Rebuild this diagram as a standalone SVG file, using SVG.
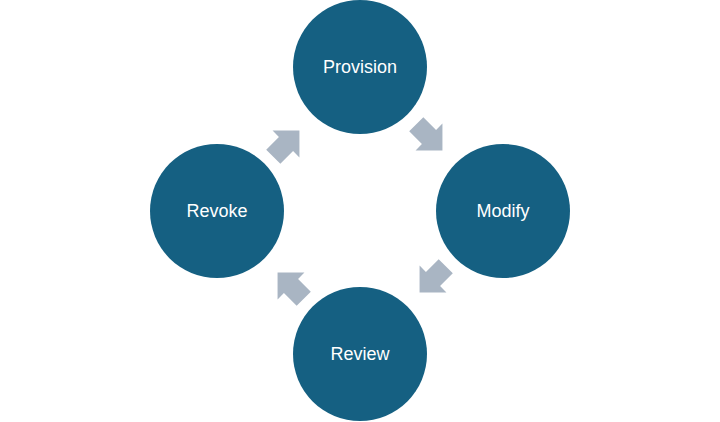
<svg xmlns="http://www.w3.org/2000/svg" width="720" height="422" viewBox="0 0 720 422">
<style>
.n{fill:#156082}
.t{fill:#fff;font-family:"Liberation Sans",Arial,sans-serif;font-size:18px;text-anchor:middle}
.a{fill:#A9B5C3}
</style>
<defs><path id="ar" d="M-18,-10 H0 V-19 L19,0 L0,19 V10 H-18 Z"/></defs>
<rect width="720" height="422" fill="#fff"/>
<g id="connectors">
<use href="#ar" class="a" transform="translate(286,144) rotate(-45)"/>
<use href="#ar" class="a" transform="translate(429,137) rotate(45)"/>
<use href="#ar" class="a" transform="translate(433,279) rotate(135)"/>
<use href="#ar" class="a" transform="translate(291,286) rotate(-135)"/>
</g>
<g id="provision"><circle class="n" cx="360" cy="67" r="67"/><text class="t" x="360" y="73">Provision</text></g>
<g id="modify"><circle class="n" cx="503" cy="211" r="67"/><text class="t" x="503" y="217">Modify</text></g>
<g id="review"><circle class="n" cx="360" cy="354" r="67"/><text class="t" x="360" y="360">Review</text></g>
<g id="revoke"><circle class="n" cx="217" cy="211" r="67"/><text class="t" x="217" y="217">Revoke</text></g>
</svg>
